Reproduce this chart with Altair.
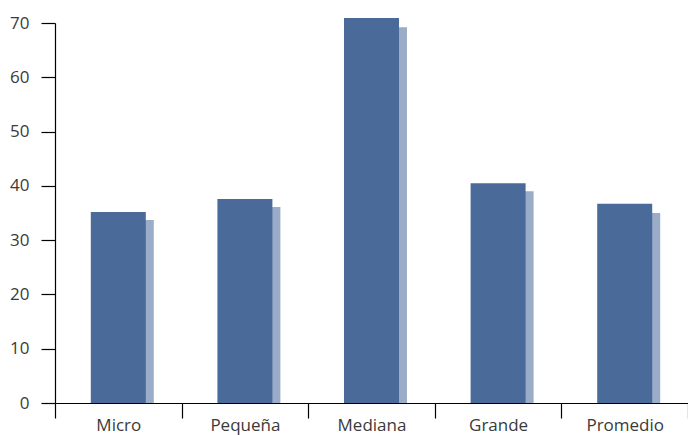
import altair as alt
import pandas as pd

categories = ["Micro", "Pequeña", "Mediana", "Grande", "Promedio"]
main_values = [35.2, 37.6, 70.9, 40.5, 36.7]
shadow_values = [33.7, 36.1, 69.2, 39.0, 35.0]

df = pd.DataFrame({"cat": categories, "main": main_values, "shadow": shadow_values})

x = alt.X("cat:N", sort=categories, title=None,
          scale=alt.Scale(paddingInner=0, paddingOuter=0),
          axis=alt.Axis(labelAngle=0, tickBand="extent", tickSize=15, tickColor="#000",
                        domainColor="#000", labelPadding=-1, labelFontSize=17,
                        labelColor="#3a3a3a", labelFont="Open Sans", grid=False))
yscale = alt.Scale(domain=[0, 70], nice=False)

shadow = alt.Chart(df).mark_bar(color="#9aacc8", width=55, xOffset=8).encode(
    x=x,
    y=alt.Y("shadow:Q", scale=yscale, title=None,
            axis=alt.Axis(values=[0, 10, 20, 30, 40, 50, 60, 70], tickSize=14,
                          tickColor="#000", domainColor="#000", labelPadding=12,
                          labelFontSize=17, labelColor="#3a3a3a", labelFont="Open Sans",
                          grid=False)),
)
main = alt.Chart(df).mark_bar(color="#4a6a9a", width=55).encode(
    x=x,
    y=alt.Y("main:Q", scale=yscale),
)

chart = alt.layer(shadow, main).properties(
    width=633, height=380,
    autosize=alt.AutoSizeParams(type="none"),
    padding={"left": 55, "top": 23, "right": 0, "bottom": 32},
).configure_view(stroke=None).configure_axis(domainWidth=1.2, tickWidth=1.2)

chart.save("out.html", embed_options={"renderer": "svg", "actions": False})
